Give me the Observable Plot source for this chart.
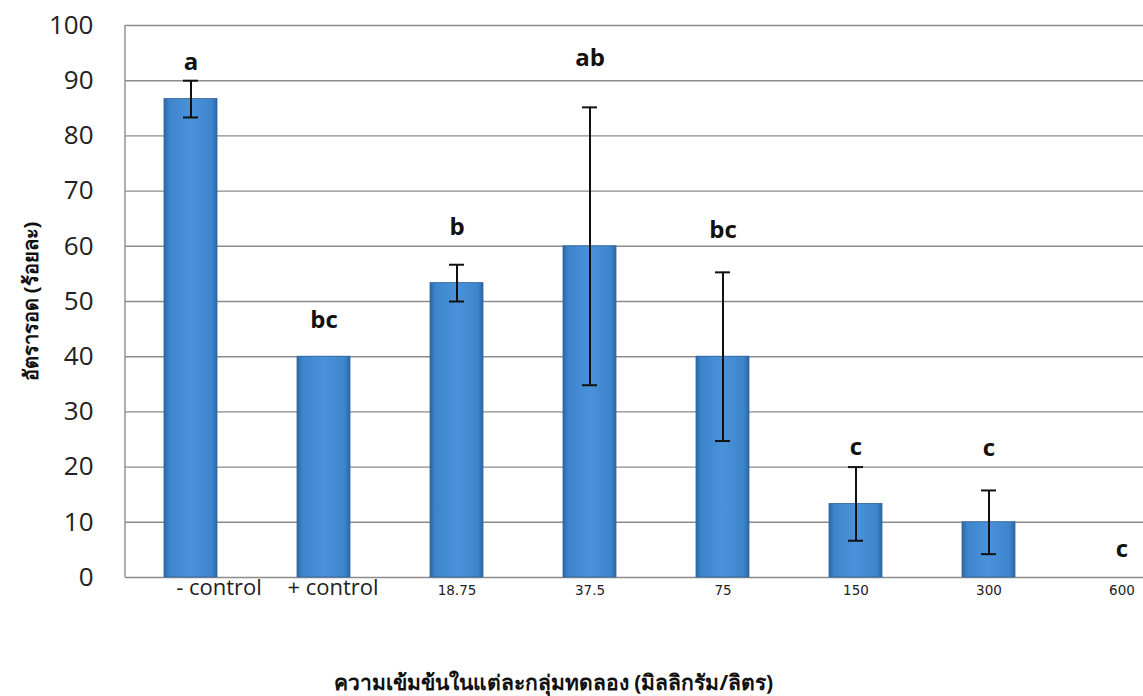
<!DOCTYPE html>
<html>
<head>
<meta charset="utf-8">
<script src="https://cdn.jsdelivr.net/npm/d3@7"></script>
<script src="https://cdn.jsdelivr.net/npm/@observablehq/plot@0.6"></script>
<style>
  html, body { margin: 0; padding: 0; background: #fff; overflow: hidden; }
  #chart svg { overflow: hidden; }
</style>
</head>
<body>
<div id="chart"></div>
<script>
// Survival (%) per treatment group, mean ± error and significance letters
const groups = ["- control", "+ control", "18.75", "37.5", "75", "150", "300", "600"];
const survival = [86.67, 40, 53.33, 60, 40, 13.33, 10, 0];
const errorBar = [3.33, 0, 3.33, 25.17, 15.28, 6.67, 5.77, 0];
const letters = ["a", "bc", "b", "ab", "bc", "c", "c", "c"];
const letterY = [93.3, 46.6, 63.4, 94.0, 62.9, 23.6, 23.4, 5.1];
const yTicks = [0, 10, 20, 30, 40, 50, 60, 70, 80, 90, 100];

const yLabel = "อัตรารอด (ร้อยละ)";
const xLabel = "ความเข้มข้นในแต่ละกลุ่มทดลอง (มิลลิกรัม/ลิตร)";

const rows = groups.map((g, i) => ({
  group: g,
  value: survival[i],
  err: errorBar[i],
  lo: survival[i] - errorBar[i],
  hi: survival[i] + errorBar[i],
  letter: letters[i],
  letterY: letterY[i]
}));
const withErr = rows.filter(d => d.err > 0);
const isControl = d => d.group.includes("control");

const marginLeft = 125, marginTop = 25, marginBottom = 119, height = 696;

const chart = Plot.plot({
  width: 1143,
  height,
  marginLeft,
  marginRight: 0,
  marginTop,
  marginBottom,
  style: {fontFamily: "'Open Sans', sans-serif", color: "#222", background: "#fff"},
  x: {domain: groups, range: [124, 1188], paddingInner: 0.6, paddingOuter: 0.3, axis: null},
  y: {domain: [0, 100], axis: null},
  marks: [
    // horizontal grid
    Plot.ruleY(yTicks, {stroke: "#8c8c8c", strokeWidth: 1.4}),
    Plot.axisY({ticks: yTicks, tickSize: 0, tickPadding: 32, fontSize: 26, label: null, fill: "#222"}),
    Plot.barY(rows, {x: "group", y: "value", fill: "url(#barGrad)", stroke: "#2f649c", strokeWidth: 0.8}),
    Plot.ruleX(withErr, {x: "group", y1: "lo", y2: "hi", stroke: "#111", strokeWidth: 2}),
    Plot.tickY(withErr, {x: "group", y: "lo", insetLeft: 19, insetRight: 19, stroke: "#111", strokeWidth: 2}),
    Plot.tickY(withErr, {x: "group", y: "hi", insetLeft: 19, insetRight: 19, stroke: "#111", strokeWidth: 2}),
    Plot.text(rows, {x: "group", y: "letterY", text: "letter", fontSize: 24, fontWeight: 700, fill: "#111"}),
    // category labels: the two controls sit a little right of their bars
    Plot.text(rows.filter(d => d.group === "- control"), {
      x: "group", frameAnchor: "bottom", lineAnchor: "middle", dy: 10, dx: 28, text: "group", fill: "#222",
      fontSize: 22
    }),
    Plot.text(rows.filter(d => d.group === "+ control"), {
      x: "group", frameAnchor: "bottom", lineAnchor: "middle", dy: 10, dx: 9, text: "group", fill: "#222",
      fontSize: 22
    }),
    Plot.text(rows.filter(d => !isControl(d)), {
      x: "group", frameAnchor: "bottom", lineAnchor: "middle", dy: 13, text: "group", fill: "#222",
      fontSize: 13.5, fontFamily: "'DejaVu Sans', sans-serif"
    }),
    Plot.text([yLabel], {frameAnchor: "left", textAnchor: "middle", lineAnchor: "middle", dx: -94, rotate: -90, fontSize: 20, fontWeight: 700, fill: "#111"}),
    Plot.text([xLabel], {frameAnchor: "bottom", textAnchor: "middle", lineAnchor: "middle", dx: -81, dy: 106, fontSize: 21, fontWeight: 700, fill: "#111"})
  ]
});

const svg = d3.select(chart);

// horizontal shading for the bars
const grad = svg.insert("defs", ":first-child")
  .append("linearGradient")
  .attr("id", "barGrad")
  .attr("x1", 0).attr("x2", 1).attr("y1", 0).attr("y2", 0);
[["0%", "#2b67a8"], ["10%", "#3d84cb"], ["50%", "#4a93db"], ["90%", "#3d84cb"], ["100%", "#2b67a8"]]
  .forEach(([o, c]) => grad.append("stop").attr("offset", o).attr("stop-color", c));

// left edge of the plot area
svg.append("line")
  .attr("x1", marginLeft).attr("x2", marginLeft)
  .attr("y1", marginTop).attr("y2", height - marginBottom)
  .attr("stroke", "#8c8c8c").attr("stroke-width", 1.4);

document.getElementById("chart").appendChild(chart);
</script>
</body>
</html>
